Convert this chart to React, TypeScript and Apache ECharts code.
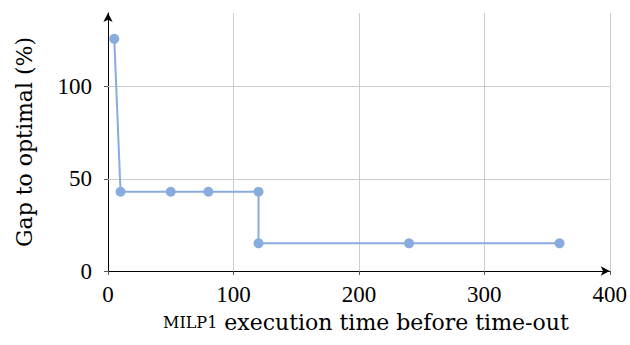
import React, { useEffect, useRef } from "react";
import * as echarts from "echarts";

const timeValues = [5, 10, 50, 80, 120, 120, 240, 360];
const gapValues = [126, 43, 43, 43, 43, 15, 15, 15];
const yGridValues = [50, 100];
const xTitleSmallCaps = "MILP1";
const xTitleRest = " execution time before time-out";
const yTitle = "Gap to optimal (%)";

const FONT = "Liberation Serif";
const TITLE_FONT = "DejaVu Serif";
const BLUE = "#89acdf";

export default function App() {
  const ref = useRef<HTMLDivElement>(null);
  useEffect(() => {
    if (!ref.current) return;
    const chart = echarts.init(ref.current, undefined, { renderer: "svg" });
    chart.setOption({
      animation: false,
      backgroundColor: "#ffffff",
      textStyle: { fontFamily: FONT },
      grid: { left: 108, right: 16, top: 13, bottom: 74 },
      xAxis: {
        type: "value",
        min: 0,
        max: 400,
        interval: 100,
        name: `{sc|${xTitleSmallCaps}}{n|${xTitleRest}}`,
        nameLocation: "middle",
        nameGap: 40,
        nameTextStyle: {
          fontFamily: TITLE_FONT,
          fontSize: 22,
          color: "#000",
          padding: [0, 0, 0, 14],
          rich: {
            sc: { fontFamily: TITLE_FONT, fontSize: 16, color: "#000" },
            n: { fontFamily: TITLE_FONT, fontSize: 22, color: "#000" },
          },
        },
        axisLine: {
          lineStyle: { color: "#000", width: 1 },
          symbol: ["none", "arrow"],
          symbolSize: [7, 9],
        },
        axisTick: { show: true, length: 4, lineStyle: { color: "#555" } },
        axisLabel: { fontSize: 23, fontFamily: FONT, color: "#000", margin: 12 },
        splitLine: { show: true, lineStyle: { color: "#cccccc", width: 1 } },
      },
      yAxis: {
        type: "value",
        min: 0,
        max: 140,
        interval: 50,
        name: yTitle,
        nameLocation: "middle",
        nameGap: 73,
        nameRotate: 90,
        nameTextStyle: { fontFamily: TITLE_FONT, fontSize: 22, color: "#000" },
        axisLine: {
          show: true,
          lineStyle: { color: "#000", width: 1 },
          symbol: ["none", "arrow"],
          symbolSize: [7, 9],
        },
        axisTick: { show: true, length: 4, lineStyle: { color: "#555" } },
        axisLabel: {
          fontSize: 23,
          fontFamily: FONT,
          color: "#000",
          margin: 16,
          showMaxLabel: false,
          formatter: (v: number) => (v === 140 ? "" : String(v)),
        },
        splitLine: { show: false },
      },
      series: [
        {
          type: "line",
          data: timeValues.map((t, i) => [t, gapValues[i]]),
          symbol: "circle",
          symbolSize: 10,
          showAllSymbol: true,
          lineStyle: { color: BLUE, width: 2 },
          itemStyle: { color: BLUE },
          z: 3,
          markLine: {
            silent: true,
            symbol: ["none", "none"],
            label: { show: false },
            lineStyle: { color: "#cccccc", width: 1, type: "solid" },
            data: yGridValues.map((v) => ({ yAxis: v })),
            z: 1,
          },
        },
      ],
    });
    return () => chart.dispose();
  }, []);
  return (
    <div
      ref={ref}
      style={{ position: "fixed", left: 0, top: 0, width: 630, height: 345 }}
    />
  );
}
